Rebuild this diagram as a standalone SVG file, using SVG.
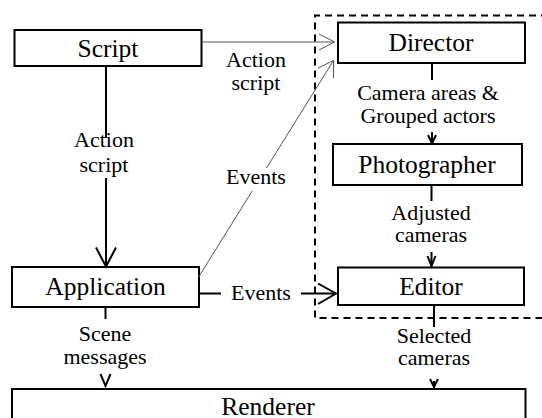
<svg xmlns="http://www.w3.org/2000/svg" width="542" height="418" viewBox="0 0 542 418">
  <style>
    text { font-family: "Liberation Serif", Tinos, "Times New Roman", "Nimbus Roman", "Nimbus Roman No9 L", FreeSerif, "Noto Serif", "DejaVu Serif", serif; fill: #000; text-anchor: middle; }
    .box { fill: #fff; stroke: #000; stroke-width: 2; }
    .name { font-size: 25.5px; }
    .lbl { font-size: 22px; }
    .thick { fill: none; stroke: #000; stroke-width: 2; }
    .thin { fill: none; stroke: #555; stroke-width: 1; }
    .head { fill: none; stroke: #000; stroke-width: 2; stroke-linejoin: miter; }
    .headthin { fill: none; stroke: #555; stroke-width: 1; }
    .group { fill: none; stroke: #000; stroke-width: 2; stroke-dasharray: 7 5; }
  </style>

  <!-- camera subsystem boundary -->
  <path id="camera-system" class="group" d="M548 15.5 H315 V318 H548"/>

  <g id="script">
    <rect class="box" x="14.5" y="30" width="187" height="36"/>
    <text class="name" x="108" y="57">Script</text>
  </g>
  <g id="director">
    <rect class="box" x="338" y="22.5" width="187" height="40.5"/>
    <text class="name" x="431" y="51">Director</text>
  </g>
  <g id="photographer">
    <rect class="box" x="333" y="144" width="189" height="41"/>
    <text class="name" x="427" y="173">Photographer</text>
  </g>
  <g id="application">
    <rect class="box" x="12" y="267" width="187" height="40"/>
    <text class="name" x="105.5" y="294.6">Application</text>
  </g>
  <g id="editor">
    <rect class="box" x="338" y="267.5" width="186" height="37.5"/>
    <text class="name" x="431" y="294.6">Editor</text>
  </g>
  <g id="renderer">
    <rect class="box" x="12" y="389" width="513.5" height="50"/>
    <text class="name" x="268" y="414.5">Renderer</text>
  </g>

  <g id="connectors">
    <!-- Script -> Director -->
    <path class="thin" d="M201.5 42 H334"/>
    <path class="headthin" d="M319 34 L334.5 42 L319 50"/>
    <text class="lbl" x="256" y="67">Action</text>
    <text class="lbl" x="256" y="90">script</text>

    <!-- Script -> Application -->
    <path class="thick" d="M106 66 V138 M106 178 V266"/>
    <path class="head" d="M96 247.5 L106 266.5 L116 247.5"/>
    <text class="lbl" x="104" y="147">Action</text>
    <text class="lbl" x="104" y="171.5">script</text>

    <!-- Application -> Director -->
    <path class="thin" d="M333.5 60.5 L266.5 168 M252.2 191 L198 278"/>
    <path class="headthin" d="M318.2 68 L333.5 60.5 L333.5 78"/>
    <text class="lbl" x="256" y="183.6">Events</text>

    <!-- Director -> Photographer -->
    <path class="thick" d="M432 63 V80 M432 132 V143"/>
    <path class="head" d="M428 135 L432 143.5 L436 135"/>
    <text class="lbl" x="428" y="100">Camera areas &amp;</text>
    <text class="lbl" x="428" y="123">Grouped actors</text>

    <!-- Photographer -> Editor -->
    <path class="thick" d="M431.5 185 V201 M431.5 252 V266"/>
    <path class="head" d="M427.5 256 L431.5 266 L435.5 256"/>
    <text class="lbl" x="431" y="220">Adjusted</text>
    <text class="lbl" x="431" y="242">cameras</text>

    <!-- Application -> Editor -->
    <path class="thick" d="M199 293.5 H221 M301 293.5 H336"/>
    <path class="head" d="M318 283.5 L336 293.5 L318 304"/>
    <text class="lbl" x="261" y="300">Events</text>

    <!-- Application -> Renderer -->
    <path class="thick" d="M105.5 307 V319"/>
    <path class="head" d="M100.5 374 L105.5 386 L110.5 374"/>
    <text class="lbl" x="105" y="341">Scene</text>
    <text class="lbl" x="105" y="363.7">messages</text>

    <!-- Editor -> Renderer -->
    <path class="thick" d="M434 305 V327 M434 381 V388"/>
    <path class="head" d="M430 379 L434 387 L438 379"/>
    <text class="lbl" x="434" y="343">Selected</text>
    <text class="lbl" x="434" y="365.4">cameras</text>
  </g>
</svg>
